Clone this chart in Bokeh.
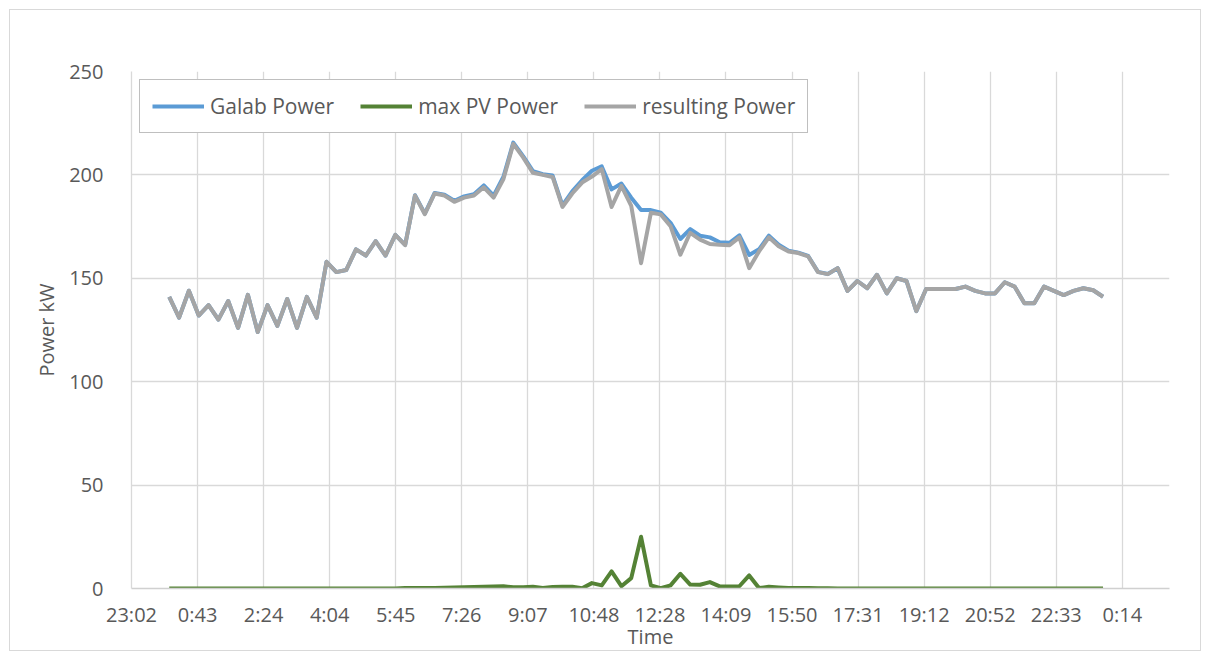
from bokeh.plotting import figure
from bokeh.models import FixedTicker, Legend, LegendItem, Range1d
from bokeh.embed import file_html
from bokeh.resources import INLINE

# ---- data (15-minute samples over one day, minutes after midnight) ----
step_minutes = 15
n_points = 96
time_min = [i * step_minutes for i in range(n_points)]

galab_power = [
    141, 131, 144, 132, 137, 130, 139, 126, 142, 124, 137, 127, 140, 126, 141, 131,
    158, 153, 154, 164, 161, 168, 161, 171, 166.2, 190.2, 181.3, 191.3, 190.4, 187.5, 189.6, 190.7,
    194.9, 190, 199.1, 215.6, 209.1, 201.8, 200.3, 199.7, 185.3, 192, 197.4, 202, 204.1, 193,
    195.8, 189, 183, 183, 181.7, 176.8, 169, 173.8, 170.6, 169.8, 167.4, 167.2, 170.8, 161.3,
    164, 170.6, 166.2, 163.3, 162.4, 160.8, 153.1, 152.1, 154.9, 143.9, 148.7, 145.2, 151.7, 142.7,
    150, 148.7, 134.1, 144.8, 144.8, 144.8, 144.8, 146, 143.9, 142.7, 142.7, 148.1, 146, 137.9,
    137.9, 146, 143.9, 141.9, 143.9, 145.2, 144.2, 141.1,
]

max_pv_power = [
    0, 0, 0, 0, 0, 0, 0, 0, 0, 0, 0, 0, 0, 0, 0, 0,
    0, 0, 0, 0, 0, 0, 0, 0, 0.2, 0.2, 0.3, 0.3, 0.4, 0.5, 0.6, 0.7,
    0.9, 1.0, 1.1, 0.6, 0.6, 0.8, 0.3, 0.7, 0.8, 0.9, 0.1, 2.6, 1.5, 8.3,
    1.1, 5.0, 25.0, 1.5, 0.1, 1.5, 7.1, 1.9, 1.8, 3.1, 1.0, 1.0, 1.1, 6.3,
    0.2, 0.8, 0.5, 0.3, 0.2, 0.2, 0.1, 0.1, 0, 0, 0, 0, 0, 0,
    0, 0, 0, 0, 0, 0, 0, 0, 0, 0, 0, 0, 0, 0,
    0, 0, 0, 0, 0, 0, 0, 0,
]

resulting_power = [
    141, 131, 144, 132, 137, 130, 139, 126, 142, 124, 137, 127, 140, 126, 141, 131,
    158, 153, 154, 164, 161, 168, 161, 171, 166, 190, 181, 191, 190, 187, 189, 190,
    194, 189, 198, 215, 208.5, 201, 200, 199, 184.5, 191, 196.3, 199.2, 202.8, 184.5,
    194.7, 185, 157.3, 181.7, 180.9, 175.2, 161.4, 172, 168.7, 166.6, 166.2, 166, 169.8, 154.9,
    163, 169.8, 165.5, 163, 162.2, 160.6, 153, 152, 154.9, 143.9, 148.7, 145.2, 151.7, 142.7,
    150, 148.7, 134.1, 144.8, 144.8, 144.8, 144.8, 146, 143.9, 142.7, 142.7, 148.1, 146, 137.9,
    137.9, 146, 143.9, 141.9, 143.9, 145.2, 144.2, 141.1,
]

tick_labels = ["23:02", "0:43", "2:24", "4:04", "5:45", "7:26", "9:07", "10:48",
               "12:28", "14:09", "15:50", "17:31", "19:12", "20:52", "22:33", "0:14"]

y_ticks = [0, 50, 100, 150, 200, 250]

# axis configuration (Excel date axis: min 0.96 day, major unit 0.07 day)
axis_start = -57.6
axis_end = 1526.4
major_unit = 100.8

FONT = "Open Sans"
TEXT_COLOR = "#595959"
GRID = "#d9d9d9"

p = figure(width=1192, height=642, output_backend="svg", toolbar_location=None,
           x_range=Range1d(axis_start, axis_end), y_range=Range1d(0, 250),
           min_border_left=121, min_border_right=33, min_border_top=61, min_border_bottom=64)
p.margin = (9, 0, 0, 9)
p.outline_line_color = None
p.background_fill_color = "white"
p.border_fill_color = "white"
p.styles = {"border": "1px solid #d9d9d9"}

tick_pos = [round(axis_start + major_unit * k, 1) for k in range(len(tick_labels))]

LW = 4
r_blue = p.line(time_min, galab_power, line_color="#5B9BD5", line_width=LW, line_join="round")
r_green = p.line(time_min, max_pv_power, line_color="#548235", line_width=LW, line_join="round")
r_gray = p.line(time_min, resulting_power, line_color="#A5A5A5", line_width=LW, line_join="round")

# x axis
xa = p.xaxis[0]
xa.ticker = FixedTicker(ticks=tick_pos)
xa.major_label_overrides = {t: lab for t, lab in zip(tick_pos, tick_labels)}
xa.axis_label = "Time"
xa.axis_line_color = "#d0d0d0"
xa.axis_line_width = 1.3
xa.major_tick_line_color = None
xa.minor_tick_line_color = None
xa.major_label_standoff = 6
xa.axis_label_standoff = -8
xa.major_label_text_font = FONT
xa.major_label_text_font_size = "20px"
xa.major_label_text_color = TEXT_COLOR
xa.axis_label_text_font = FONT
xa.axis_label_text_font_size = "20px"
xa.axis_label_text_font_style = "normal"
xa.axis_label_text_color = TEXT_COLOR

# y axis
ya = p.yaxis[0]
ya.ticker = FixedTicker(ticks=y_ticks)
ya.axis_label = "Power kW"
ya.axis_line_color = GRID
ya.axis_line_width = 1.3
ya.major_tick_line_color = None
ya.minor_tick_line_color = None
ya.major_label_standoff = 22
ya.axis_label_standoff = 6
ya.major_label_text_font = FONT
ya.major_label_text_font_size = "20px"
ya.major_label_text_color = TEXT_COLOR
ya.axis_label_text_font = FONT
ya.axis_label_text_font_size = "20px"
ya.axis_label_text_font_style = "normal"
ya.axis_label_text_color = TEXT_COLOR

p.xgrid.ticker = FixedTicker(ticks=tick_pos)
p.ygrid.ticker = FixedTicker(ticks=y_ticks)
p.xgrid.grid_line_color = GRID
p.ygrid.grid_line_color = GRID
p.xgrid.grid_line_width = 1.3
p.ygrid.grid_line_width = 1.3

legend = Legend(items=[
    LegendItem(label="Galab Power", renderers=[r_blue]),
    LegendItem(label="max PV Power", renderers=[r_green]),
    LegendItem(label="resulting Power", renderers=[r_gray]),
], orientation="horizontal", location="top_left")
legend.margin = 8
legend.padding = 12
legend.spacing = 26
legend.label_standoff = 6
legend.glyph_width = 52
legend.label_text_font = FONT
legend.label_text_font_size = "21px"
legend.label_text_color = TEXT_COLOR
legend.border_line_color = "#808080"
legend.border_line_width = 1.5
legend.background_fill_color = "white"
legend.background_fill_alpha = 1.0
p.add_layout(legend)

open("out.html", "w").write(file_html(p, INLINE))
